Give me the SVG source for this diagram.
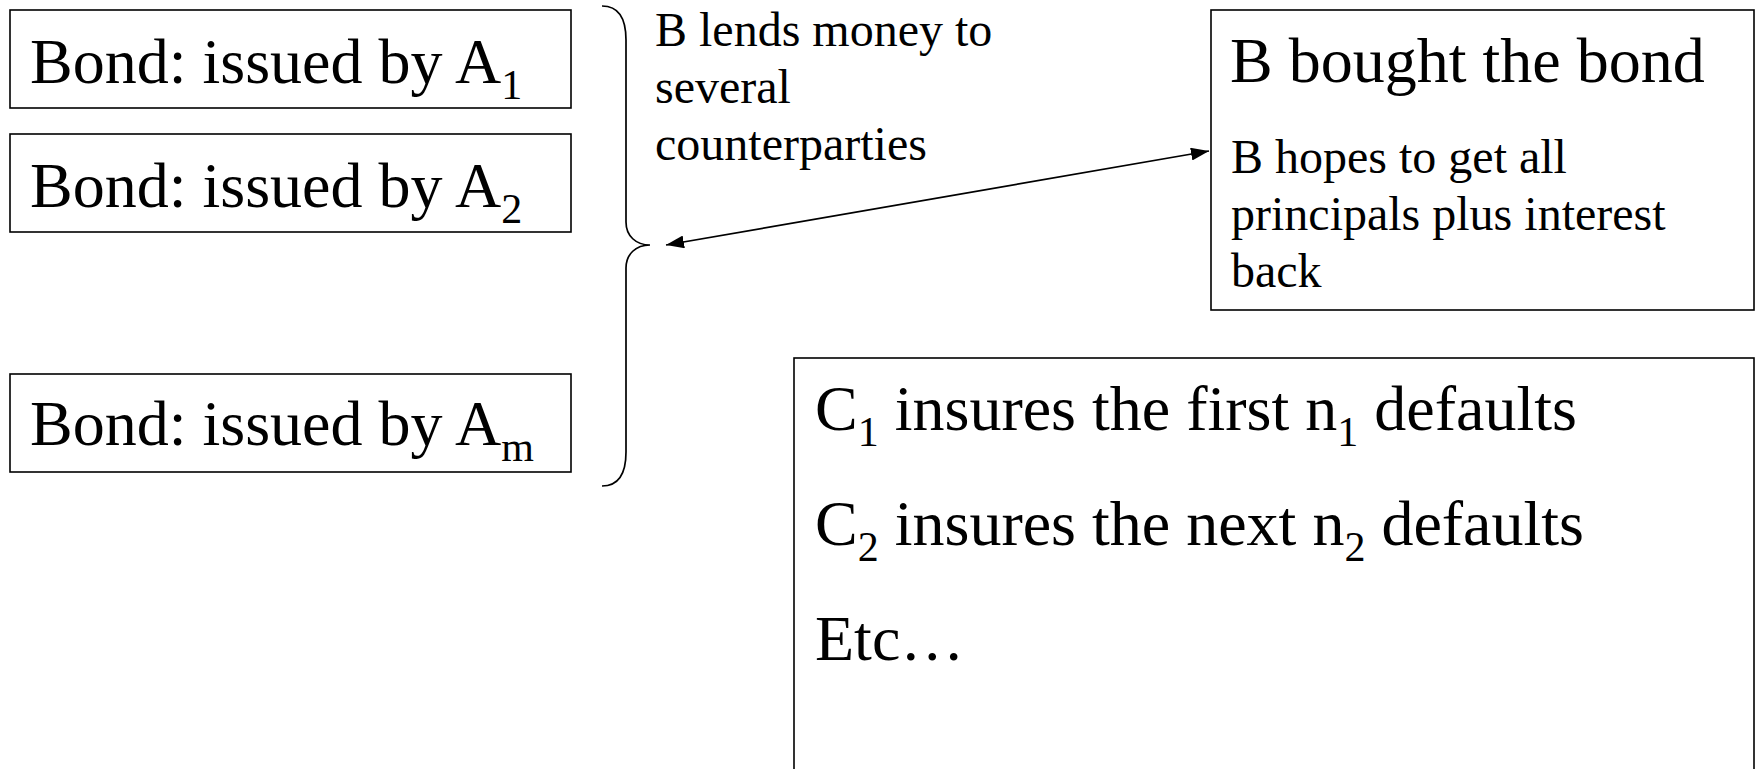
<svg xmlns="http://www.w3.org/2000/svg" width="1755" height="769" viewBox="0 0 1755 769">
  <style>
    .box { fill: #fff; stroke: #000; stroke-width: 1.6; }
    .t { font-family: "Liberation Serif", "Times New Roman", serif; fill: #000; }
    .big { font-size: 64px; }
    .mid { font-size: 48px; }
    .sub { font-size: 42px; }
    .conn { fill: none; stroke: #000; stroke-width: 1.7; }
  </style>
  <defs>
    <marker id="ah" viewBox="0 0 18 13" refX="18" refY="6.5" markerWidth="18" markerHeight="13" markerUnits="userSpaceOnUse" orient="auto-start-reverse">
      <path d="M0,0 L18,6.5 L0,13 Z" fill="#000"/>
    </marker>
  </defs>
  <rect width="1755" height="769" fill="#fff"/>

  <g id="bond1">
    <rect class="box" x="10" y="10" width="561" height="98"/>
    <text class="t big" x="30" y="83">Bond: issued by A<tspan class="sub" dy="16">1</tspan></text>
  </g>
  <g id="bond2">
    <rect class="box" x="10" y="134" width="561" height="98"/>
    <text class="t big" x="30" y="207">Bond: issued by A<tspan class="sub" dy="16">2</tspan></text>
  </g>
  <g id="bondm">
    <rect class="box" x="10" y="374" width="561" height="98"/>
    <text class="t big" x="30" y="445">Bond: issued by A<tspan class="sub" dy="16">m</tspan></text>
  </g>

  <g id="brace">
    <path class="conn" d="M602,6 C618,6 626,18 626,40 L626,222 C626,236 636,245 650,245 C636,245 626,254 626,268 L626,452 C626,474 618,486 602,486"/>
  </g>

  <g id="lend-label">
    <text class="t mid" x="655" y="46">B lends money to</text>
    <text class="t mid" x="655" y="103">several</text>
    <text class="t mid" x="655" y="160">counterparties</text>
  </g>

  <g id="buyer">
    <rect class="box" x="1211" y="10" width="543" height="300"/>
    <text class="t big" x="1230" y="82">B bought the bond</text>
    <text class="t mid" x="1231" y="173">B hopes to get all</text>
    <text class="t mid" x="1231" y="230">principals plus interest</text>
    <text class="t mid" x="1231" y="287">back</text>
  </g>

  <g id="insurers">
    <rect class="box" x="794" y="358" width="960" height="430"/>
    <text class="t big" x="815" y="430">C<tspan class="sub" dy="16">1</tspan><tspan dy="-16"> insures the first n</tspan><tspan class="sub" dy="16">1</tspan><tspan dy="-16"> defaults</tspan></text>
    <text class="t big" x="815" y="545">C<tspan class="sub" dy="16">2</tspan><tspan dy="-16"> insures the next n</tspan><tspan class="sub" dy="16">2</tspan><tspan dy="-16"> defaults</tspan></text>
    <text class="t big" x="815" y="660">Etc…</text>
  </g>

  <g id="connectors">
    <line class="conn" x1="666" y1="245" x2="1209" y2="151" marker-start="url(#ah)" marker-end="url(#ah)"/>
  </g>
</svg>
